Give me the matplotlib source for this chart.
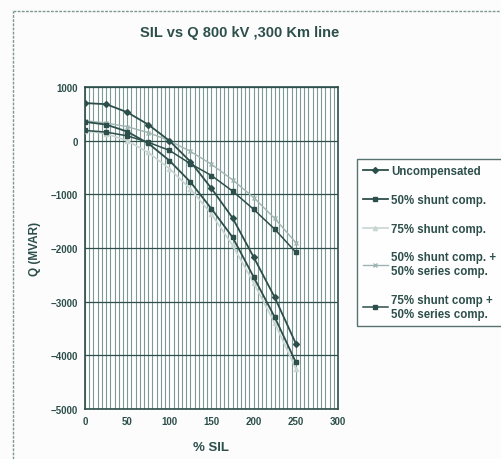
# %% Modules

import numpy as np
import matplotlib
matplotlib.use("Agg")
import matplotlib.pyplot as plt
from matplotlib.lines import Line2D

# %% Data

sil = [0, 25, 50, 75, 100, 125, 150, 175, 200, 225, 250]

uncompensated = [700, 680, 530, 300, 0, -390, -890, -1440, -2170, -2920, -3780]
shunt_50      = [350, 300, 170, -50, -370, -770, -1270, -1800, -2540, -3290, -4130]
shunt_75      = [180, 130, 0, -220, -520, -900, -1370, -1950, -2650, -3400, -4250]
shunt_50_ser  = [370, 330, 260, 150, 0, -200, -440, -730, -1060, -1450, -1900]
shunt_75_ser  = [190, 160, 90, -30, -180, -430, -650, -940, -1280, -1650, -2080]

labels = [
    "Uncompensated",
    "50% shunt comp.",
    "75% shunt comp.",
    "50% shunt comp. +\n50% series comp.",
    "75% shunt comp +\n50% series comp.",
]

y_ticks = [1000, 0, -1000, -2000, -3000, -4000, -5000]
x_ticks = [0, 50, 100, 150, 200, 250, 300]

# %% Plot setup

plt.rcParams["font.family"] = ["Liberation Sans", "DejaVu Sans"]
plt.rcParams["font.weight"] = "bold"

dark  = "#2d4f4b"
mid   = "#9fb5b1"
light = "#c8d5d2"
grid  = "#7e9894"

fig = plt.figure(figsize = (5.02, 4.60), dpi = 100)
fig.patch.set_facecolor("#fcfcfc")

ax = fig.add_axes([85 / 502, 1 - 410 / 460, 253 / 502, 322 / 460])
ax.set_facecolor("white")

# Series

ax.plot(sil, uncompensated, color = dark, marker = "D", markersize = 3, linewidth = 1.3, label = labels[0], zorder = 5)
ax.plot(sil, shunt_50, color = dark, marker = "s", markersize = 3.5, linewidth = 1.3, label = labels[1], zorder = 5)
ax.plot(sil, shunt_75, color = light, marker = "^", markersize = 3, linewidth = 1.2, label = labels[2], zorder = 4)
ax.plot(sil, shunt_50_ser, color = mid, marker = "x", markersize = 3.5, linewidth = 1.0, label = labels[3], zorder = 4)
ax.plot(sil, shunt_75_ser, color = dark, marker = "s", markersize = 3, linewidth = 1.1, label = labels[4], zorder = 5)

# Axes, ticks and grid

ax.set_xlim(0, 300)
ax.set_ylim(-5000, 1000)
ax.set_xticks(x_ticks)
ax.set_yticks(y_ticks)
ax.set_xticks(np.arange(0, 301, 5), minor = True)
ax.tick_params(axis = "both", which = "both", length = 0, labelsize = 7, colors = dark, pad = 5)
ax.grid(axis = "x", which = "both", color = grid, linewidth = 0.8)
ax.grid(axis = "y", which = "major", color = dark, linewidth = 0.9)
ax.set_axisbelow(True)

for spine in ax.spines.values():
    spine.set_color(dark)
    spine.set_linewidth(1.2)

ax.set_xlabel("% SIL", fontsize = 9.5, color = dark, fontweight = "bold", labelpad = 11)
ax.set_ylabel("Q (MVAR)", fontsize = 8.5, color = dark, fontweight = "bold", labelpad = 7)

# Title

fig.text(240 / 502, 1 - 33 / 460, "SIL vs Q 800 kV ,300 Km line", ha = "center", va = "center",
         fontsize = 10.5, fontweight = "bold", color = dark)

# Legend

leg = ax.legend(loc = "upper left", bbox_to_anchor = (357 / 502, 1 - 160 / 460), bbox_transform = fig.transFigure,
                fontsize = 8.3, frameon = True, fancybox = False, handlelength = 2.1, handletextpad = 0.3,
                labelspacing = 1.45, borderpad = 0.55, borderaxespad = 0)
leg.get_frame().set_edgecolor(dark)
leg.get_frame().set_linewidth(1.0)
for text in leg.get_texts():
    text.set_color(dark)

# Outer frame of the scanned chart

fig.add_artist(Line2D([13 / 502, 1], [1 - 12 / 460, 1 - 12 / 460], transform = fig.transFigure,
                      color = grid, linewidth = 1.0, linestyle = (0, (2, 1))))
fig.add_artist(Line2D([13 / 502, 13 / 502], [0, 1 - 12 / 460], transform = fig.transFigure,
                      color = grid, linewidth = 1.0, linestyle = (0, (2, 1))))

# %% Save

plt.savefig("out.png", dpi = 100)
